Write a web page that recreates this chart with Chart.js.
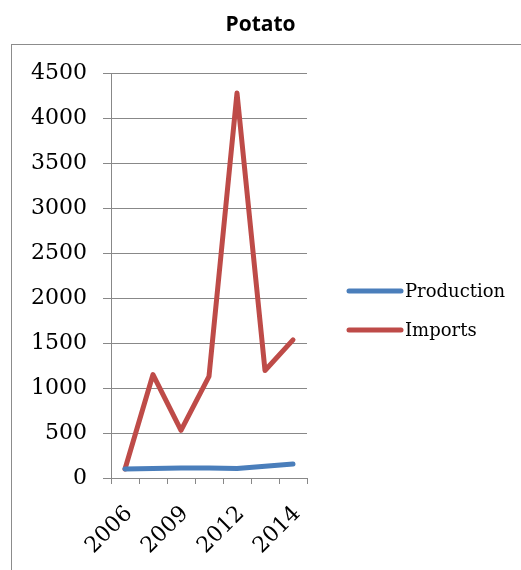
<!DOCTYPE html>
<html>
<head>
<meta charset="utf-8">
<title>Potato</title>
<script src="https://cdn.jsdelivr.net/npm/chart.js@4"></script>
<style>
  html, body { margin: 0; padding: 0; background: #fff; overflow: hidden; }
  #frame { position: absolute; left: 11px; top: 44px; width: 600px; height: 600px; border: 1px solid #8c8c8c; }
  #chart { position: absolute; left: 0; top: 0; }
</style>
</head>
<body>
<div id="frame"></div>
<canvas id="chart" width="521" height="570"></canvas>
<script>
// ---------- Data ----------
const years      = ['2006', '2007', '2009', '2010', '2012', '2013', '2014'];
const production = [100, 105, 110, 110, 105, 130, 155];
const imports    = [100, 1150, 530, 1130, 4280, 1195, 1535];
const yTicks     = [0, 500, 1000, 1500, 2000, 2500, 3000, 3500, 4000, 4500];

const BLUE = '#4a7ebb';
const RED  = '#be4b48';
const GRID = '#888888';
const SERIF = "'DejaVu Serif', 'Liberation Serif', serif";

// Legend drawn at the right of the plot, line swatch + label
const sideLegend = {
  id: 'sideLegend',
  afterDraw(chart) {
    const {ctx} = chart;
    const rows = [291, 330];
    chart.data.datasets.forEach((ds, i) => {
      const y = rows[i];
      ctx.save();
      ctx.strokeStyle = ds.borderColor;
      ctx.lineWidth = 5;
      ctx.lineCap = 'round';
      ctx.beginPath();
      ctx.moveTo(349, y);
      ctx.lineTo(401, y);
      ctx.stroke();
      ctx.fillStyle = '#000';
      ctx.font = '18px ' + SERIF;
      ctx.textBaseline = 'middle';
      ctx.fillText(ds.label, 405, y + 1);
      ctx.restore();
    });
  }
};

new Chart(document.getElementById('chart'), {
  type: 'line',
  data: {
    labels: years,
    datasets: [
      { label: 'Production', data: production, borderColor: BLUE, backgroundColor: BLUE },
      { label: 'Imports',    data: imports,    borderColor: RED,  backgroundColor: RED }
    ]
  },
  options: {
    responsive: false,
    animation: false,
    layout: { padding: 0 },
    elements: {
      line: { borderWidth: 5, tension: 0, borderCapStyle: 'round', borderJoinStyle: 'round' },
      point: { radius: 0, hoverRadius: 0 }
    },
    plugins: {
      legend: { display: false },
      tooltip: { enabled: false },
      title: {
        display: true,
        text: 'Potato',
        color: '#000',
        font: { family: "'Open Sans', 'Noto Sans', sans-serif", size: 21, weight: 'bold' },
        padding: { top: 12, bottom: 36 }
      }
    },
    scales: {
      x: {
        offset: true,
        grid: { offset: true, drawOnChartArea: false, tickLength: 6, color: GRID },
        border: { color: GRID },
        ticks: {
          autoSkip: false,
          minRotation: 45,
          maxRotation: 45,
          padding: 17,
          labelOffset: 4,
          color: '#000',
          font: { family: SERIF, size: 22 },
          callback: (v, i) => i % 2 === 0 ? years[i] : ''
        },
        afterFit: s => { s.height = 92; }
      },
      y: {
        min: 0,
        max: 4500,
        afterBuildTicks: s => { s.ticks = yTicks.map(v => ({ value: v })); },
        grid: { color: GRID, tickLength: 8 },
        border: { color: GRID },
        ticks: {
          padding: 16,
          color: '#000',
          font: { family: SERIF, size: 22 },
          callback: v => String(v)
        },
        afterFit: s => { s.width = 111; }
      },
      // empty right-hand axis that reserves room for the legend
      side: {
        position: 'right',
        display: true,
        grid: { display: false, drawTicks: false },
        border: { display: false },
        ticks: { display: false },
        afterFit: s => { s.width = 214; }
      }
    }
  },
  plugins: [sideLegend]
});
</script>
</body>
</html>
